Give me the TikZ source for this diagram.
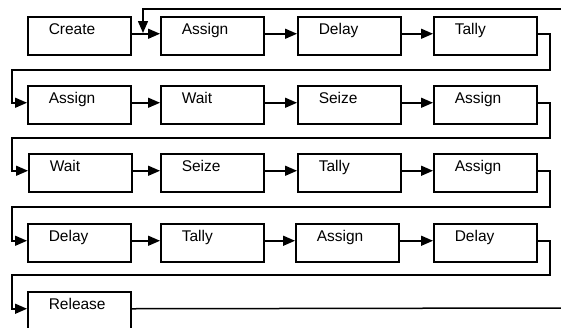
\documentclass[tikz,border=0pt]{standalone}
\usepackage{fontspec}
\setmainfont{Liberation Sans}
\usetikzlibrary{arrows.meta}
\begin{document}
\begin{tikzpicture}[x=1pt,y=1pt,
  blk/.style={draw, line width=1.5pt, anchor=north west, inner xsep=21pt, inner ysep=0pt,
    text width=61pt, align=left, text height=18pt, text depth=20pt,
    font=\fontsize{15.5}{18}\selectfont},
  wire/.style={line width=1.5pt},
  conn/.style={wire, -{Triangle[length=12pt,width=10pt]}}]
\useasboundingbox (0,0) rectangle (561,-327);
\clip (0,0) rectangle (561,-327);
% row 1
\node[blk] (c)  at (27,-16)  {Create};
\node[blk] (a1) at (160,-16) {Assign};
\node[blk] (d1) at (297,-16) {Delay};
\node[blk] (t1) at (433,-16) {Tally};
% row 2
\node[blk] (a2) at (27,-85)  {Assign};
\node[blk] (w2) at (160,-85) {Wait};
\node[blk] (s2) at (297,-85) {Seize};
\node[blk] (a3) at (433,-85) {Assign};
% row 3
\node[blk] (w3) at (28,-153)  {Wait};
\node[blk] (s3) at (160,-153) {Seize};
\node[blk] (t3) at (297,-153) {Tally};
\node[blk] (a4) at (433,-153) {Assign};
% row 4
\node[blk] (d4) at (27,-223)  {Delay};
\node[blk] (t4) at (160,-223) {Tally};
\node[blk] (a5) at (295,-223) {Assign};
\node[blk] (d5) at (433,-223) {Delay};
% row 5
\node[blk] (r)  at (27,-291)  {Release};
% free ends
\coordinate (fb)  at (561,-9);
\coordinate (fbt) at (143,-33);
\coordinate (rend) at (561,-308);
% horizontal connectors
\foreach \u/\v in {c/a1,a1/d1,d1/t1,a2/w2,w2/s2,s2/a3,w3/s3,s3/t3,t3/a4,d4/t4,t4/a5,a5/d5}
  \draw[conn] ([yshift=2pt]\u.east) -- ([yshift=2pt]\v.west);
% feedback
\draw[conn] (fb) -| (fbt);
% row returns
\draw[conn] ([yshift=2pt]t1.east) -| (550,-70) -| ([xshift=-15pt,yshift=2pt]a2.west) -- ([yshift=2pt]a2.west);
\draw[conn] ([yshift=2pt]a3.east) -| (550,-138) -| ([xshift=-16pt,yshift=2pt]w3.west) -- ([yshift=2pt]w3.west);
\draw[conn] ([yshift=2pt]a4.east) -| (550,-207) -| ([xshift=-15pt,yshift=2pt]d4.west) -- ([yshift=2pt]d4.west);
\draw[conn] ([yshift=2pt]d5.east) -| (550,-275) -| ([xshift=-15pt,yshift=2pt]r.west) -- ([yshift=2pt]r.west);
% release out
\draw[wire] ([yshift=2pt]r.east) -- (rend);
\end{tikzpicture}
\end{document}
